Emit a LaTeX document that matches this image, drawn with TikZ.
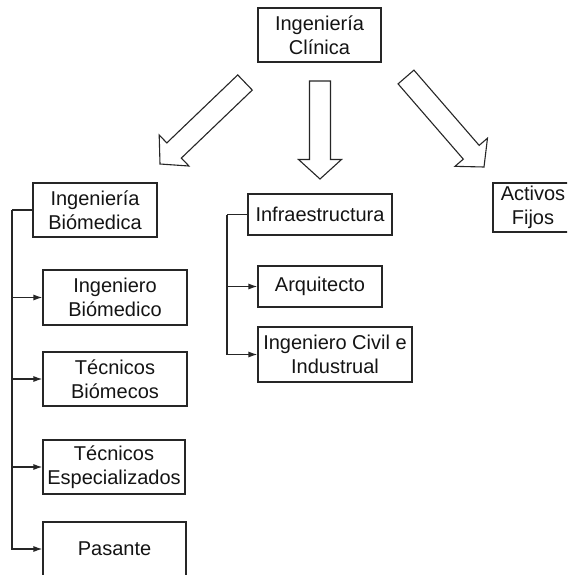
\documentclass[tikz,border=0pt]{standalone}
\usepackage{fontspec}
\setmainfont{Liberation Sans}
\usetikzlibrary{calc,arrows.meta}
\definecolor{ink}{HTML}{141414}
\definecolor{edge}{HTML}{262626}
\tikzset{
  box/.style={draw=edge, line width=1.2pt, inner sep=0pt, align=center, text=ink,
    font=\fontsize{20}{24}\selectfont},
  conn/.style={draw=edge, line width=1.2pt},
  arr/.style={conn, -{Latex[length=9pt,width=6pt]}},
  bigarrow/.style={draw=edge, line width=1.1pt, line join=miter, fill=white}
}
\newcommand\blockarrow[2]{%
  \draw[bigarrow]
    ($(#1)!10.5pt!90:(#2)$) --
    ($($(#2)!19.5pt!(#1)$)!10.5pt!-90:(#1)$) --
    ($($(#2)!19.5pt!(#1)$)!21.5pt!-90:(#1)$) --
    (#2) --
    ($($(#2)!19.5pt!(#1)$)!21.5pt!90:(#1)$) --
    ($($(#2)!19.5pt!(#1)$)!10.5pt!90:(#1)$) --
    ($(#1)!10.5pt!-90:(#2)$) -- cycle;
}
\begin{document}
\begin{tikzpicture}[x=1pt,y=-1pt]
\clip (0,0) rectangle (567,575);
\fill[white] (0,0) rectangle (567,575);

% top
\node[box, minimum width=123pt, minimum height=54pt] (ic) at (319.5,35) {Ingeniería\\Clínica};

% big arrows
\coordinate (lt) at (245,82.5);
\coordinate (lp) at (160,164);
\coordinate (mt) at (320,81);
\coordinate (mp) at (320,179);
\coordinate (rt) at (406,77);
\coordinate (rp) at (484,167);
\blockarrow{lt}{lp}
\blockarrow{mt}{mp}
\blockarrow{rt}{rp}

% left branch
\node[box, minimum width=124pt, minimum height=54pt] (ib) at (95,210) {Ingeniería\\Biómedica};
\node[box, minimum width=144pt, minimum height=55pt] (ibm) at (115,297.5) {Ingeniero\\Biómedico};
\node[box, minimum width=144pt, minimum height=54pt] (tb) at (115,379) {Técnicos\\Biómecos};
\node[box, minimum width=142pt, minimum height=54pt] (te) at (114,467) {Técnicos\\Especializados};
\node[box, minimum width=143pt, minimum height=54pt] (pas) at (114.5,549) {Pasante};

\coordinate (sp) at (12,210);
\draw[conn] (ib.west) -- (sp);
\draw[arr] (sp) |- (pas.west);
\foreach \c in {ibm,tb,te} \draw[arr] (sp) |- (\c.west);

% middle branch
\node[box, minimum width=144pt, minimum height=41pt] (inf) at (320,214.5) {Infraestructura};
\node[box, minimum width=124pt, minimum height=41pt] (arq) at (320,286.5) {Arquitecto};
\node[box, minimum width=154pt, minimum height=55pt] (ici) at (335,354.5) {Ingeniero Civil e\\Industrual};

\coordinate (sp2) at (227,214.5);
\draw[conn] (inf.west) -- (sp2);
\draw[arr] (sp2) |- (ici.west);
\draw[arr] (sp2) |- (arq.west);

% right
\node[box, minimum width=80pt, minimum height=49pt] (af) at (533,207.5) {Activos\\Fijos};
\end{tikzpicture}
\end{document}
